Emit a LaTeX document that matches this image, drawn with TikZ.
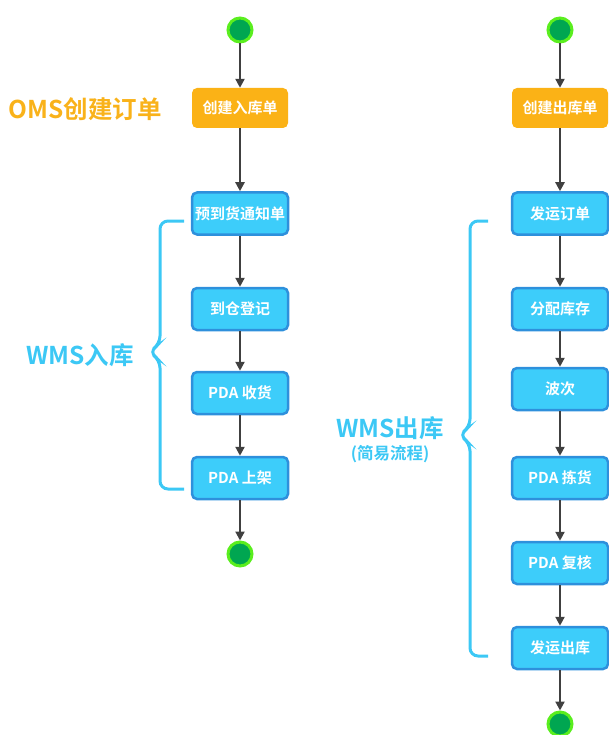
\documentclass[tikz,border=0pt]{standalone}
\usepackage{fontspec}
\setmainfont{Noto Sans CJK SC}[BoldFont={Noto Sans CJK SC Bold}]
\usetikzlibrary{arrows.meta}
\definecolor{boxblue}{HTML}{3DCDFA}
\definecolor{boxedge}{HTML}{2E90DC}
\definecolor{orangeb}{HTML}{FBB216}
\definecolor{labblue}{HTML}{3CC8F5}
\definecolor{labor}{HTML}{F9B21A}
\definecolor{dotfill}{HTML}{00A651}
\definecolor{dotedge}{HTML}{5AEE1E}
\definecolor{arr}{HTML}{404040}
\begin{document}
\begin{tikzpicture}[x=1pt,y=-1pt,
  bluebox/.style={draw=boxedge,line width=2.5pt,fill=boxblue,rounded corners=5pt,minimum width=96pt,minimum height=42pt,text=white,font=\bfseries\fontsize{15}{15}\selectfont,inner sep=0pt},
  orbox/.style={fill=orangeb,rounded corners=5pt,minimum width=96pt,minimum height=40pt,text=white,font=\bfseries\fontsize{15}{15}\selectfont,inner sep=0pt},
  dot/.style={circle,draw=dotedge,line width=3pt,fill=dotfill,minimum size=24pt,inner sep=0pt},
  flow/.style={draw=arr,line width=2.2pt,-{Triangle[length=9pt,width=9pt]}},
  brace/.style={draw=labblue,line width=3pt,rounded corners=8pt},
  bigl/.style={font=\bfseries\fontsize{24.5}{24.5}\selectfont,inner sep=0pt}]
\useasboundingbox (0,0) rectangle (609,735);
% left column
\node[dot] (s1) at (240,30) {};
\node[orbox] (a0) at (240,108) {创建入库单};
\node[bluebox] (a1) at (240,213.5) {预到货通知单};
\node[bluebox] (a2) at (240,309) {到仓登记};
\node[bluebox] (a3) at (240,393) {PDA 收货};
\node[bluebox] (a4) at (240,478) {PDA 上架};
\node[dot] (e1) at (240,554) {};
\foreach \u/\v in {s1/a0,a0/a1,a1/a2,a2/a3,a3/a4,a4/e1}
  \draw[flow] (\u) -- (\v);
% right column
\node[dot] (s2) at (560,30) {};
\node[orbox] (b0) at (560,108) {创建出库单};
\node[bluebox] (b1) at (560,213.5) {发运订单};
\node[bluebox] (b2) at (560,309) {分配库存};
\node[bluebox] (b3) at (560,389) {波次};
\node[bluebox] (b4) at (560,478) {PDA 拣货};
\node[bluebox] (b5) at (560,563) {PDA 复核};
\node[bluebox] (b6) at (560,648) {发运出库};
\node[dot] (e2) at (560,724) {};
\foreach \u/\v in {s2/b0,b0/b1,b1/b2,b2/b3,b3/b4,b4/b5,b5/b6,b6/e2}
  \draw[flow] (\u) -- (\v);
% labels
\node[bigl,text=labor] (l1) at (85,109) {OMS创建订单};
\node[bigl,text=labblue] (l2) at (80,355) {WMS入库};
\node[bigl,text=labblue] (l3) at (390,428) {WMS出库};
\node[font=\bfseries\fontsize{16.5}{16.5}\selectfont,text=labblue,inner sep=0pt] (l4) at (390,454) {(简易流程)};
% braces
\draw[brace] (184,221) -- (160,221) -- (160,344) -- (149,352) -- (160,360) -- (160,489) -- (184,489);
\draw[brace] (488,221) -- (470,221) -- (470,427) -- (459,435) -- (470,443) -- (470,656) -- (488,656);
\end{tikzpicture}
\end{document}
